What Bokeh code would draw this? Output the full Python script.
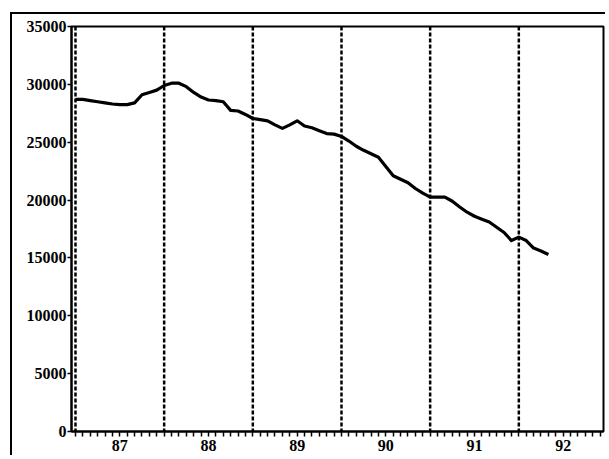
from bokeh.plotting import figure
from bokeh.models import Range1d, FixedTicker, Span, CustomJSTickFormatter
from bokeh.embed import file_html
from bokeh.resources import INLINE

# Monthly values, Jan 1987 .. May 1992
start_year = 1987
values = [28700, 28700, 28600, 28500, 28400, 28300, 28250, 28250, 28400, 29100,
          29300, 29500, 29900, 30100, 30100, 29800, 29300, 28900, 28650, 28600,
          28500, 27750, 27700, 27400, 27050, 26950, 26850, 26500, 26200, 26500,
          26850, 26400, 26250, 26000, 25750, 25700, 25500, 25100, 24650, 24300,
          24000, 23700, 22900, 22100, 21800, 21500, 21000, 20600, 20250, 20250,
          20250, 19900, 19400, 18950, 18600, 18350, 18100, 17650, 17200, 16500,
          16800, 16500, 15850, 15600, 15300]
year_labels = ["87", "88", "89", "90", "91", "92"]
y_ticks = [0, 5000, 10000, 15000, 20000, 25000, 30000, 35000]
divider_years = [1987, 1988, 1989, 1990, 1991, 1992]

x = [start_year + i / 12 for i in range(len(values))]
label_pos = [start_year + k + 0.5 for k in range(len(year_labels))]
month_ticks = [start_year + k / 12 for k in range(12 * len(year_labels))]

FONT = "Liberation Serif"

p = figure(width=595, height=443, output_backend="svg", toolbar_location=None,
           x_range=Range1d(1986.955, 1992.955), y_range=Range1d(0, 35000),
           min_border_left=59, min_border_right=4, min_border_top=12,
           min_border_bottom=26)
p.styles = {"margin-left": "10px", "margin-top": "12px",
            "border-left": "2px solid black", "border-top": "2px solid black"}
p.background_fill_color = "white"
p.border_fill_color = "white"
p.outline_line_color = "black"
p.outline_line_width = 2
p.grid.visible = False

for yr in divider_years:
    p.add_layout(Span(location=yr, dimension="height", line_color="black",
                      line_width=2.5, line_dash="4 2"))

p.line(x, values, line_color="black", line_width=3.2, line_join="round")

# y axis
ya = p.yaxis[0]
ya.ticker = FixedTicker(ticks=y_ticks)
ya.axis_line_width = 2
ya.major_tick_out = 4
ya.major_tick_in = 0
ya.major_tick_line_width = 1.5
ya.minor_tick_line_color = None
ya.major_label_standoff = 1
ya.major_label_text_font = FONT
ya.major_label_text_font_style = "bold"
ya.major_label_text_font_size = "16px"
ya.major_label_text_color = "black"

# x axis
xa = p.xaxis[0]
xa.ticker = FixedTicker(ticks=label_pos, minor_ticks=month_ticks)
xa.formatter = CustomJSTickFormatter(code="return String(Math.floor(tick) % 100);")
xa.axis_line_width = 2
xa.major_tick_out = 0
xa.major_tick_in = 0
xa.minor_tick_out = 5
xa.minor_tick_in = 0
xa.minor_tick_line_width = 1.5
xa.minor_tick_line_color = "black"
xa.major_label_standoff = 3
xa.major_label_text_font = FONT
xa.major_label_text_font_style = "bold"
xa.major_label_text_font_size = "16px"
xa.major_label_text_color = "black"

open("out.html", "w").write(file_html(p, INLINE))
